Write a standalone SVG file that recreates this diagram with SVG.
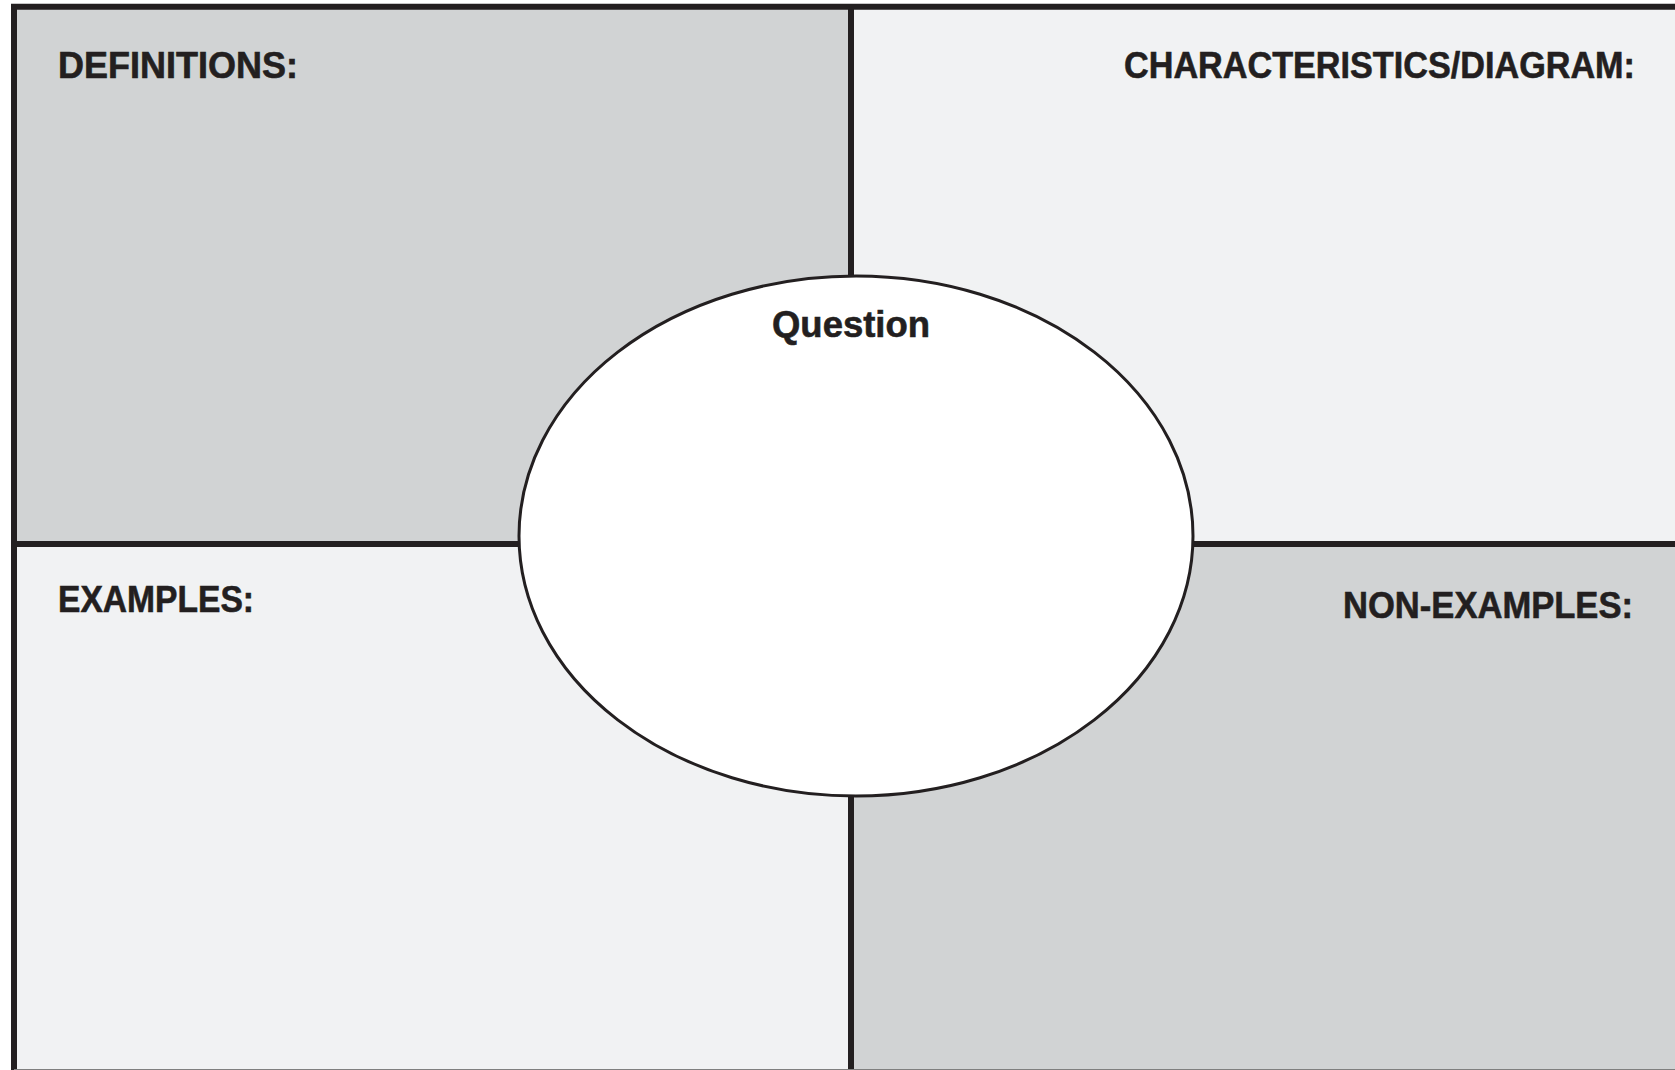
<svg xmlns="http://www.w3.org/2000/svg" width="1675" height="1070" viewBox="0 0 1675 1070">
<style>
.lbl{font-family:"Liberation Sans",Arial,sans-serif;font-weight:bold;font-size:37px;fill:#231f20;stroke:#231f20;stroke-width:0.6}
.rule{stroke:#231f20;stroke-width:6;fill:none}
</style>
<rect width="1675" height="1070" fill="#ffffff"/>
<g id="definitions">
<rect x="14" y="7" width="837" height="537" fill="#d1d3d4"/>
<text class="lbl" x="58" y="78" textLength="240" lengthAdjust="spacingAndGlyphs">DEFINITIONS:</text>
</g>
<g id="characteristics">
<rect x="851" y="7" width="824" height="537" fill="#f1f2f3"/>
<text class="lbl" x="1635" y="78" text-anchor="end" textLength="511" lengthAdjust="spacingAndGlyphs">CHARACTERISTICS/DIAGRAM:</text>
</g>
<g id="examples">
<rect x="14" y="544" width="837" height="526" fill="#f1f2f3"/>
<text class="lbl" x="58" y="612" textLength="196" lengthAdjust="spacingAndGlyphs">EXAMPLES:</text>
</g>
<g id="non-examples">
<rect x="851" y="544" width="824" height="526" fill="#d1d3d4"/>
<text class="lbl" x="1633" y="618" text-anchor="end" textLength="290" lengthAdjust="spacingAndGlyphs">NON-EXAMPLES:</text>
</g>
<g id="connectors">
<line class="rule" x1="11" y1="6.7" x2="1675" y2="6.7" stroke-width="6.5"/>
<line class="rule" x1="14" y1="4" x2="14" y2="1070"/>
<line class="rule" x1="851" y1="7" x2="851" y2="1070"/>
<line class="rule" x1="14" y1="544" x2="1675" y2="544"/>
<line x1="14" y1="1069.5" x2="1675" y2="1069.5" stroke="#7f7f7f" stroke-width="1"/>
</g>
<g id="question">
<ellipse cx="856" cy="536" rx="337" ry="260" fill="#ffffff" stroke="#231f20" stroke-width="3"/>
<text class="lbl" x="851" y="337" text-anchor="middle" textLength="158" lengthAdjust="spacingAndGlyphs">Question</text>
</g>
</svg>
